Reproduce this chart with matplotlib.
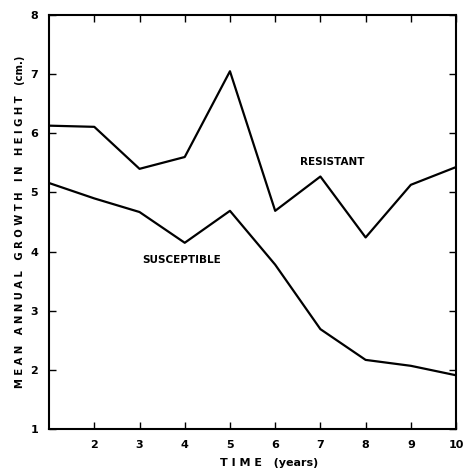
import matplotlib
matplotlib.use("Agg")
import matplotlib.pyplot as plt

years = [1, 2, 3, 4, 5, 6, 7, 8, 9, 10]
resistant = [6.13, 6.11, 5.40, 5.60, 7.05, 4.69, 5.27, 4.24, 5.13, 5.43]
susceptible = [5.16, 4.90, 4.67, 4.15, 4.69, 3.78, 2.69, 2.17, 2.07, 1.91]
xticks = [2, 3, 4, 5, 6, 7, 8, 9, 10]
yticks = [1, 2, 3, 4, 5, 6, 7, 8]

plt.rcParams['font.family'] = ['DejaVu Sans']
plt.rcParams['font.weight'] = 'bold'

fig = plt.figure(figsize=(4.63, 4.70), dpi=100)
ax = fig.add_axes([0.106, 0.087, 0.879, 0.881])

ax.plot(years, resistant, color='black', linewidth=1.6)
ax.plot(years, susceptible, color='black', linewidth=1.6)

ax.text(6.55, 5.52, "RESISTANT", fontsize=7.5, fontweight='bold', va='center')
ax.text(3.05, 3.86, "SUSCEPTIBLE", fontsize=7.5, fontweight='bold', va='center')

ax.set_xlim(1, 10)
ax.set_ylim(1, 8)
ax.set_xticks(xticks)
ax.set_yticks(yticks)
ax.tick_params(direction='in', length=5, width=1, top=True, right=True,
               labelsize=8, pad=8)
for lab in ax.get_xticklabels() + ax.get_yticklabels():
    lab.set_fontweight('bold')
for s in ax.spines.values():
    s.set_linewidth(1.5)

ax.set_xlabel("T I M E   (years)", fontsize=8, fontweight='bold', labelpad=4)
ax.xaxis.set_label_coords(0.54, -0.07)
ax.set_ylabel("M E A N   A N N U A L   G R O W T H   I N   H E I G H T   (cm.)",
              fontsize=7.2, fontweight='bold')
ax.yaxis.set_label_coords(-0.06, 0.5)

fig.savefig("out.png", dpi=100)
